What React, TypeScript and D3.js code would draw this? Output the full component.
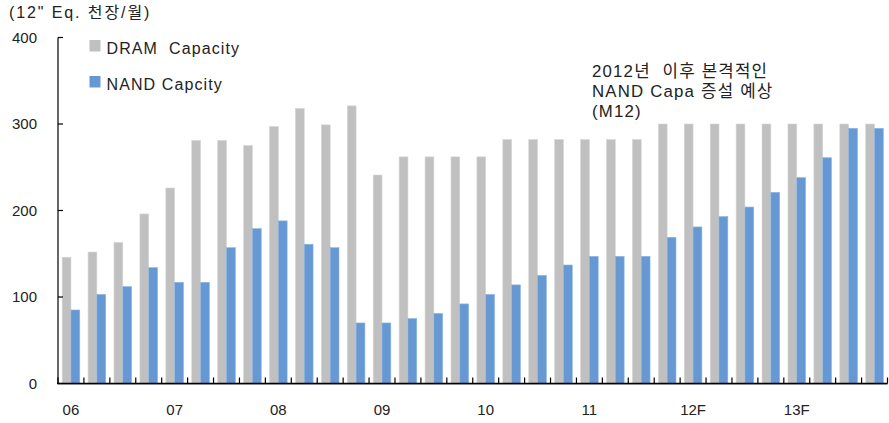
import React from "react";
import * as d3 from "d3";

// Quarterly capacity, 2006 Q1 – 2013 Q4 (12" equivalent, thousand wafers / month)
const years = ["06", "07", "08", "09", "10", "11", "12F", "13F"];
const quarters = years.flatMap((y) => ["Q1", "Q2", "Q3", "Q4"].map((q) => `${y}${q}`));

const dramCapacity = [
  146, 152, 163, 196, 226, 281, 281, 275, 297, 318, 299, 321,
  241, 262, 262, 262, 262, 282, 282, 282, 282, 282, 282, 300,
  300, 300, 300, 300, 300, 300, 300, 300,
];
const nandCapacity = [
  85, 103, 112, 134, 117, 117, 157, 179, 188, 161, 157, 70,
  70, 75, 81, 92, 103, 114, 125, 137, 147, 147, 147, 169,
  181, 193, 204, 221, 238, 261, 295, 295,
];

const yTicks = [0, 100, 200, 300, 400];
const unitLabel = '(12" Eq. 천장/월)';
const legendLabels = ["DRAM  Capacity", "NAND Capcity"];
const noteLines = ["2012년  이후 본격적인", "NAND Capa 증설 예상", "(M12)"];

const W = 889;
const H = 423;
const GRAY = "#C0C0C0";
const BLUE = "#6699D3";
const FONT = "'Liberation Sans', Arial, 'Noto Sans CJK KR', sans-serif";
const PRE = { whiteSpace: "pre" as const };

export default function App() {
  const x = d3.scaleBand<string>().domain(quarters).range([58, 887.5]).paddingInner(0).paddingOuter(0);
  const y = d3.scaleLinear().domain([0, 400]).range([383.5, 37.5]);
  const bw = x.bandwidth();
  const barW = bw * 0.34;
  const x0 = x.range()[0];
  const y0 = y(0);

  const boundaries = d3.range(quarters.length + 1).map((i) => x0 + i * bw);

  return (
    <svg
      width={W}
      height={H}
      viewBox={`0 0 ${W} ${H}`}
      style={{ position: "absolute", left: 0, top: 0, background: "#fff" }}
      fontFamily={FONT}
    >
      {/* unit label */}
      <text x={9} y={18} fontSize={16} letterSpacing={1.9} fill="#222" style={PRE}>
        {unitLabel}
      </text>

      {/* bars */}
      <g>
        {quarters.map((q, i) => {
          const cx = (x(q) as number) + bw / 2;
          return (
            <g key={q}>
              <rect
                x={cx - barW}
                y={y(dramCapacity[i])}
                width={barW}
                height={y0 - y(dramCapacity[i])}
                fill={GRAY}
                stroke="#D6D6D6"
                strokeWidth={0.6}
              />
              <rect
                x={cx}
                y={y(nandCapacity[i])}
                width={barW}
                height={y0 - y(nandCapacity[i])}
                fill={BLUE}
                stroke="#8DB5E2"
                strokeWidth={0.6}
              />
            </g>
          );
        })}
      </g>

      {/* y axis */}
      <line x1={x0} x2={x0} y1={y(400)} y2={y0} stroke="#000" strokeWidth={1.2} />
      {yTicks.map((t) => (
        <g key={t}>
          <line x1={x0} x2={x0 + 5} y1={y(t)} y2={y(t)} stroke="#000" strokeWidth={1.2} />
          <text x={37} y={y(t)} dy="0.36em" textAnchor="end" fontSize={15} fill="#222">
            {t}
          </text>
        </g>
      ))}

      {/* x axis */}
      <line x1={x0} x2={boundaries[boundaries.length - 1]} y1={y0 + 1} y2={y0 + 1} stroke="#BDBDBD" strokeWidth={1} />
      <line x1={x0 - 1} x2={boundaries[boundaries.length - 1]} y1={y0} y2={y0} stroke="#000" strokeWidth={1.6} />
      {boundaries.map((bx, i) => (
        <line key={i} x1={bx} x2={bx} y1={y0} y2={y0 - 6} stroke="#000" strokeWidth={1.2} />
      ))}
      {years.map((yr, i) => (
        <text
          key={yr}
          x={(x(quarters[i * 4]) as number) + bw / 2}
          y={415}
          textAnchor="middle"
          fontSize={15}
          fill="#222"
        >
          {yr}
        </text>
      ))}

      {/* legend */}
      {legendLabels.map((label, i) => {
        const ly = i === 0 ? 40 : 76;
        return (
          <g key={label}>
            <rect x={89.5} y={ly} width={11} height={11.5} fill={i === 0 ? GRAY : BLUE} />
            <text x={106.5} y={ly + 14} fontSize={16} letterSpacing={1.1} fill="#222" style={PRE}>
              {label}
            </text>
          </g>
        );
      })}

      {/* note */}
      {noteLines.map((line, i) => (
        <text key={i} x={592} y={76.5 + i * 20} fontSize={16.8} letterSpacing={1.2} fill="#222" style={PRE}>
          {line}
        </text>
      ))}
    </svg>
  );
}
